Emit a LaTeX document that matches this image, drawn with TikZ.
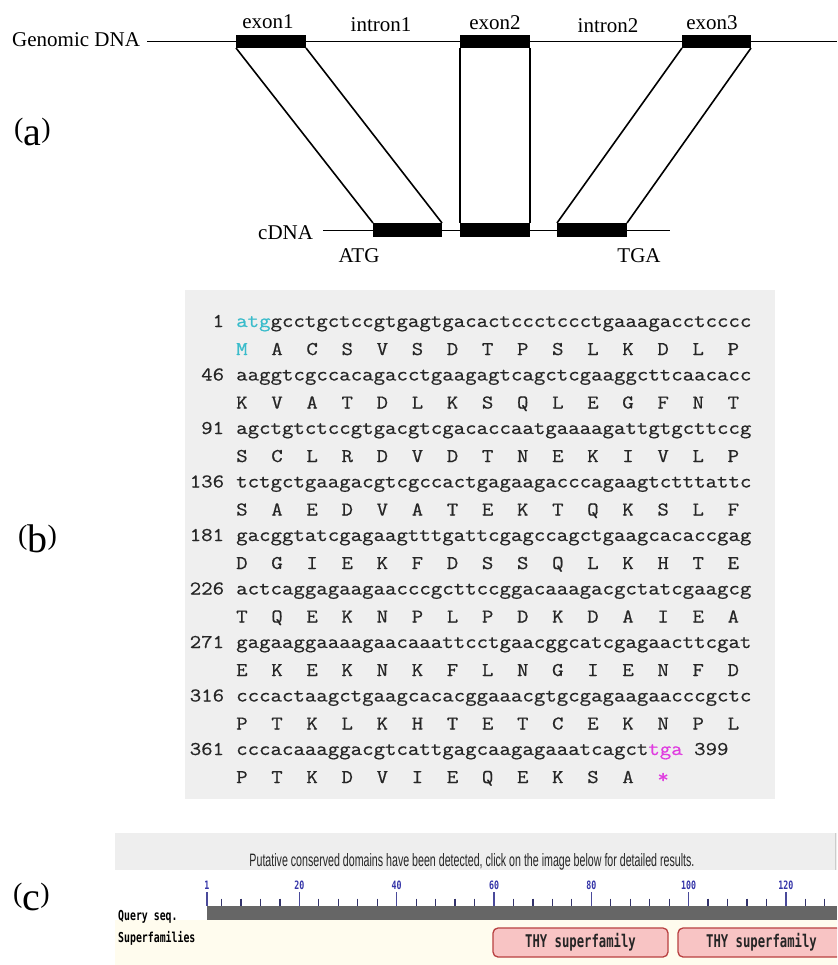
\documentclass[tikz,border=0pt]{standalone}
\usepackage{fontspec}
\usepackage{graphicx}
\setmainfont{Liberation Serif}
\setsansfont{Liberation Sans}
\newfontfamily\seqfont[FakeStretch=1.14,FakeBold=0.6]{Latin Modern Mono}
\newfontfamily\pixfont[FakeStretch=0.72]{DejaVu Sans Mono}
\newfontfamily\thyfont[FakeStretch=0.70]{DejaVu Sans Mono}
\definecolor{seqbg}{HTML}{EFEFEF}
\definecolor{seqtxt}{HTML}{262626}
\definecolor{atgc}{HTML}{3ABCCB}
\definecolor{tgac}{HTML}{E03CE0}
\definecolor{hdrbg}{HTML}{EEEEEE}
\definecolor{hdrtxt}{HTML}{262626}
\definecolor{barc}{HTML}{666666}
\definecolor{tickc}{HTML}{4A4A9A}
\definecolor{lblc}{HTML}{3434A8}
\definecolor{yelbg}{HTML}{FFFCEE}
\definecolor{thyfill}{HTML}{F8C4C4}
\definecolor{thydraw}{HTML}{B84040}
\newcommand\ntrow[3]{%
  \node[numst] (num#1) at (224.3,{327+53.5*#1}) {#2};
  \node[ntst] (nt#1) at (236,{327+53.5*#1}) {#3};
}
\newcommand\aarow[2]{%
  \foreach \a [count=\i from 0] in {#2}
    \node[aast] (aa#1-\i) at ({236+35.1*\i},{355+53.5*#1}) {\a};
}
\begin{document}
\begin{tikzpicture}[x=1pt,y=-1pt,
  lbl/.style={font=\fontsize{21}{25}\selectfont, inner sep=0, text=black},
  panel/.style={inner sep=0, anchor=base west, text=black},
  exon/.style={fill=black, inner sep=0, outer sep=0, minimum height=13},
  cexon/.style={fill=black, inner sep=0, outer sep=0, minimum height=14},
  dnaline/.style={line width=1.4},
  conn/.style={line width=1.6},
  numst/.style={font=\seqfont\fontsize{19.5}{22}\selectfont, inner sep=0, anchor=base east, text=seqtxt},
  ntst/.style={font=\seqfont\fontsize{19.5}{22}\selectfont, inner sep=0, anchor=base west, text=seqtxt},
  aast/.style={font=\seqfont\fontsize{19.5}{22}\selectfont, inner sep=0, anchor=base west, text=seqtxt},
  tickmaj/.style={draw=tickc, line width=1.3},
  tickmin/.style={draw=tickc!70!black, line width=1.2},
  ticklbl/.style={font=\pixfont\bfseries\fontsize{11.5}{12}\selectfont, text=lblc, inner sep=0, anchor=base},
  rowlbl/.style={font=\pixfont\bfseries\fontsize{13.7}{14}\selectfont, text=black, inner sep=0, anchor=base west},
  thybox/.style={draw=thydraw, fill=thyfill, line width=1.3, rounded corners=5, inner sep=0,
    minimum height=29, font=\thyfont\bfseries\fontsize{17.5}{18}\selectfont, text=black!85}
]
\useasboundingbox (0,0) rectangle (837,965);
\clip (0,0) rectangle (837,965);
\fill[white] (0,0) rectangle (837,965);

% ---------------- panel (a)
\node[panel] (pa) at (14,146) {\raisebox{8pt}{\fontsize{28}{28}\selectfont(}\fontsize{40}{40}\selectfont a\raisebox{8pt}{\fontsize{28}{28}\selectfont)}};
\node[lbl, anchor=base west] (gdna) at (12,47) {Genomic DNA};
\coordinate (gs) at (147,41.5);
\coordinate (ge) at (837,41.5);
\draw[dnaline] (gs) -- (ge);
\node[exon, minimum width=70] (e1) at (271,41.5) {};
\node[exon, minimum width=70] (e2) at (495,41.5) {};
\node[exon, minimum width=69] (e3) at (716.5,41.5) {};
\node[lbl, anchor=base] (le1) at (268,29) {exon1};
\node[lbl, anchor=base] (li1) at (381,32) {intron1};
\node[lbl, anchor=base] (le2) at (495,30) {exon2};
\node[lbl, anchor=base] (li2) at (608,33) {intron2};
\node[lbl, anchor=base] (le3) at (712,30) {exon3};

\node[lbl, anchor=base west] (cdna) at (258,240) {cDNA};
\coordinate (cs) at (323,230.5);
\coordinate (ce) at (670,230.5);
\draw[dnaline] (cs) -- (ce);
\node[cexon, minimum width=69] (c1) at (407.5,230) {};
\node[cexon, minimum width=70] (c2) at (495,230) {};
\node[cexon, minimum width=70] (c3) at (592,230) {};
\node[lbl, anchor=base] (atg) at (359,262) {ATG};
\node[lbl, anchor=base] (tga) at (639,262) {TGA};

\draw[conn] (e1.south west) -- (c1.north west);
\draw[conn] (e1.south east) -- (c1.north east);
\draw[conn] (e2.south west) -- (c2.north west);
\draw[conn] (e2.south east) -- (c2.north east);
\draw[conn] (e3.south west) -- (c3.north west);
\draw[conn] (e3.south east) -- (c3.north east);

% ---------------- panel (b)
\node[panel] (pb) at (18,552) {\raisebox{8pt}{\fontsize{28}{28}\selectfont(}\fontsize{40}{40}\selectfont b\raisebox{8pt}{\fontsize{28}{28}\selectfont)}};
\fill[seqbg] (185,290) rectangle (775,799);

\ntrow{0}{1}{\textcolor{atgc}{atg}gcctgctccgtgagtgacactccctccctgaaagacctcccc}
\aarow{0}{\textcolor{atgc}{M},A,C,S,V,S,D,T,P,S,L,K,D,L,P}
\ntrow{1}{46}{aaggtcgccacagacctgaagagtcagctcgaaggcttcaacacc}
\aarow{1}{K,V,A,T,D,L,K,S,Q,L,E,G,F,N,T}
\ntrow{2}{91}{agctgtctccgtgacgtcgacaccaatgaaaagattgtgcttccg}
\aarow{2}{S,C,L,R,D,V,D,T,N,E,K,I,V,L,P}
\ntrow{3}{136}{tctgctgaagacgtcgccactgagaagacccagaagtctttattc}
\aarow{3}{S,A,E,D,V,A,T,E,K,T,Q,K,S,L,F}
\ntrow{4}{181}{gacggtatcgagaagtttgattcgagccagctgaagcacaccgag}
\aarow{4}{D,G,I,E,K,F,D,S,S,Q,L,K,H,T,E}
\ntrow{5}{226}{actcaggagaagaacccgcttccggacaaagacgctatcgaagcg}
\aarow{5}{T,Q,E,K,N,P,L,P,D,K,D,A,I,E,A}
\ntrow{6}{271}{gagaaggaaaagaacaaattcctgaacggcatcgagaacttcgat}
\aarow{6}{E,K,E,K,N,K,F,L,N,G,I,E,N,F,D}
\ntrow{7}{316}{cccactaagctgaagcacacggaaacgtgcgagaagaacccgctc}
\aarow{7}{P,T,K,L,K,H,T,E,T,C,E,K,N,P,L}
\ntrow{8}{361}{cccacaaaggacgtcattgagcaagagaaatcagct\textcolor{tgac}{tga} 399}
\aarow{8}{P,T,K,D,V,I,E,Q,E,K,S,A,\textcolor{tgac}{*}}

% ---------------- panel (c)
\node[panel] (pc) at (13,910) {\raisebox{8pt}{\fontsize{28}{28}\selectfont(}\fontsize{40}{40}\selectfont c\raisebox{8pt}{\fontsize{28}{28}\selectfont)}};
\fill[hdrbg] (115,833) rectangle (837,870);
\draw[black!20, line width=0.8] (835,833) -- (835,870);
\node[anchor=base, inner sep=0, text=hdrtxt] (hdr) at (472,866)
  {\resizebox{445pt}{13pt}{\sffamily Putative conserved domains have been detected, click on the image below for detailed results.}};
\fill[yelbg] (115,920) rectangle (837,965);
\fill[barc] (207,906) rectangle (837,920);
\foreach \r in {4,8,...,128}
  \draw[tickmin] ({202.1+4.865*\r},898.5) -- ({202.1+4.865*\r},906);
\foreach \r in {1,20,40,60,80,100,120} {
  \draw[tickmaj] ({202.1+4.865*\r},892) -- ({202.1+4.865*\r},906);
  \node[ticklbl] (t\r) at ({202.1+4.865*\r},889) {\r};
}
\node[rowlbl] (qs) at (118,920) {Query seq.};
\node[rowlbl] (sf) at (118,942) {Superfamilies};
\node[thybox, minimum width=175] (thy1) at (580.5,942.5) {THY superfamily};
\node[thybox, minimum width=167] (thy2) at (761.5,942.5) {THY superfamily};
\end{tikzpicture}
\end{document}
